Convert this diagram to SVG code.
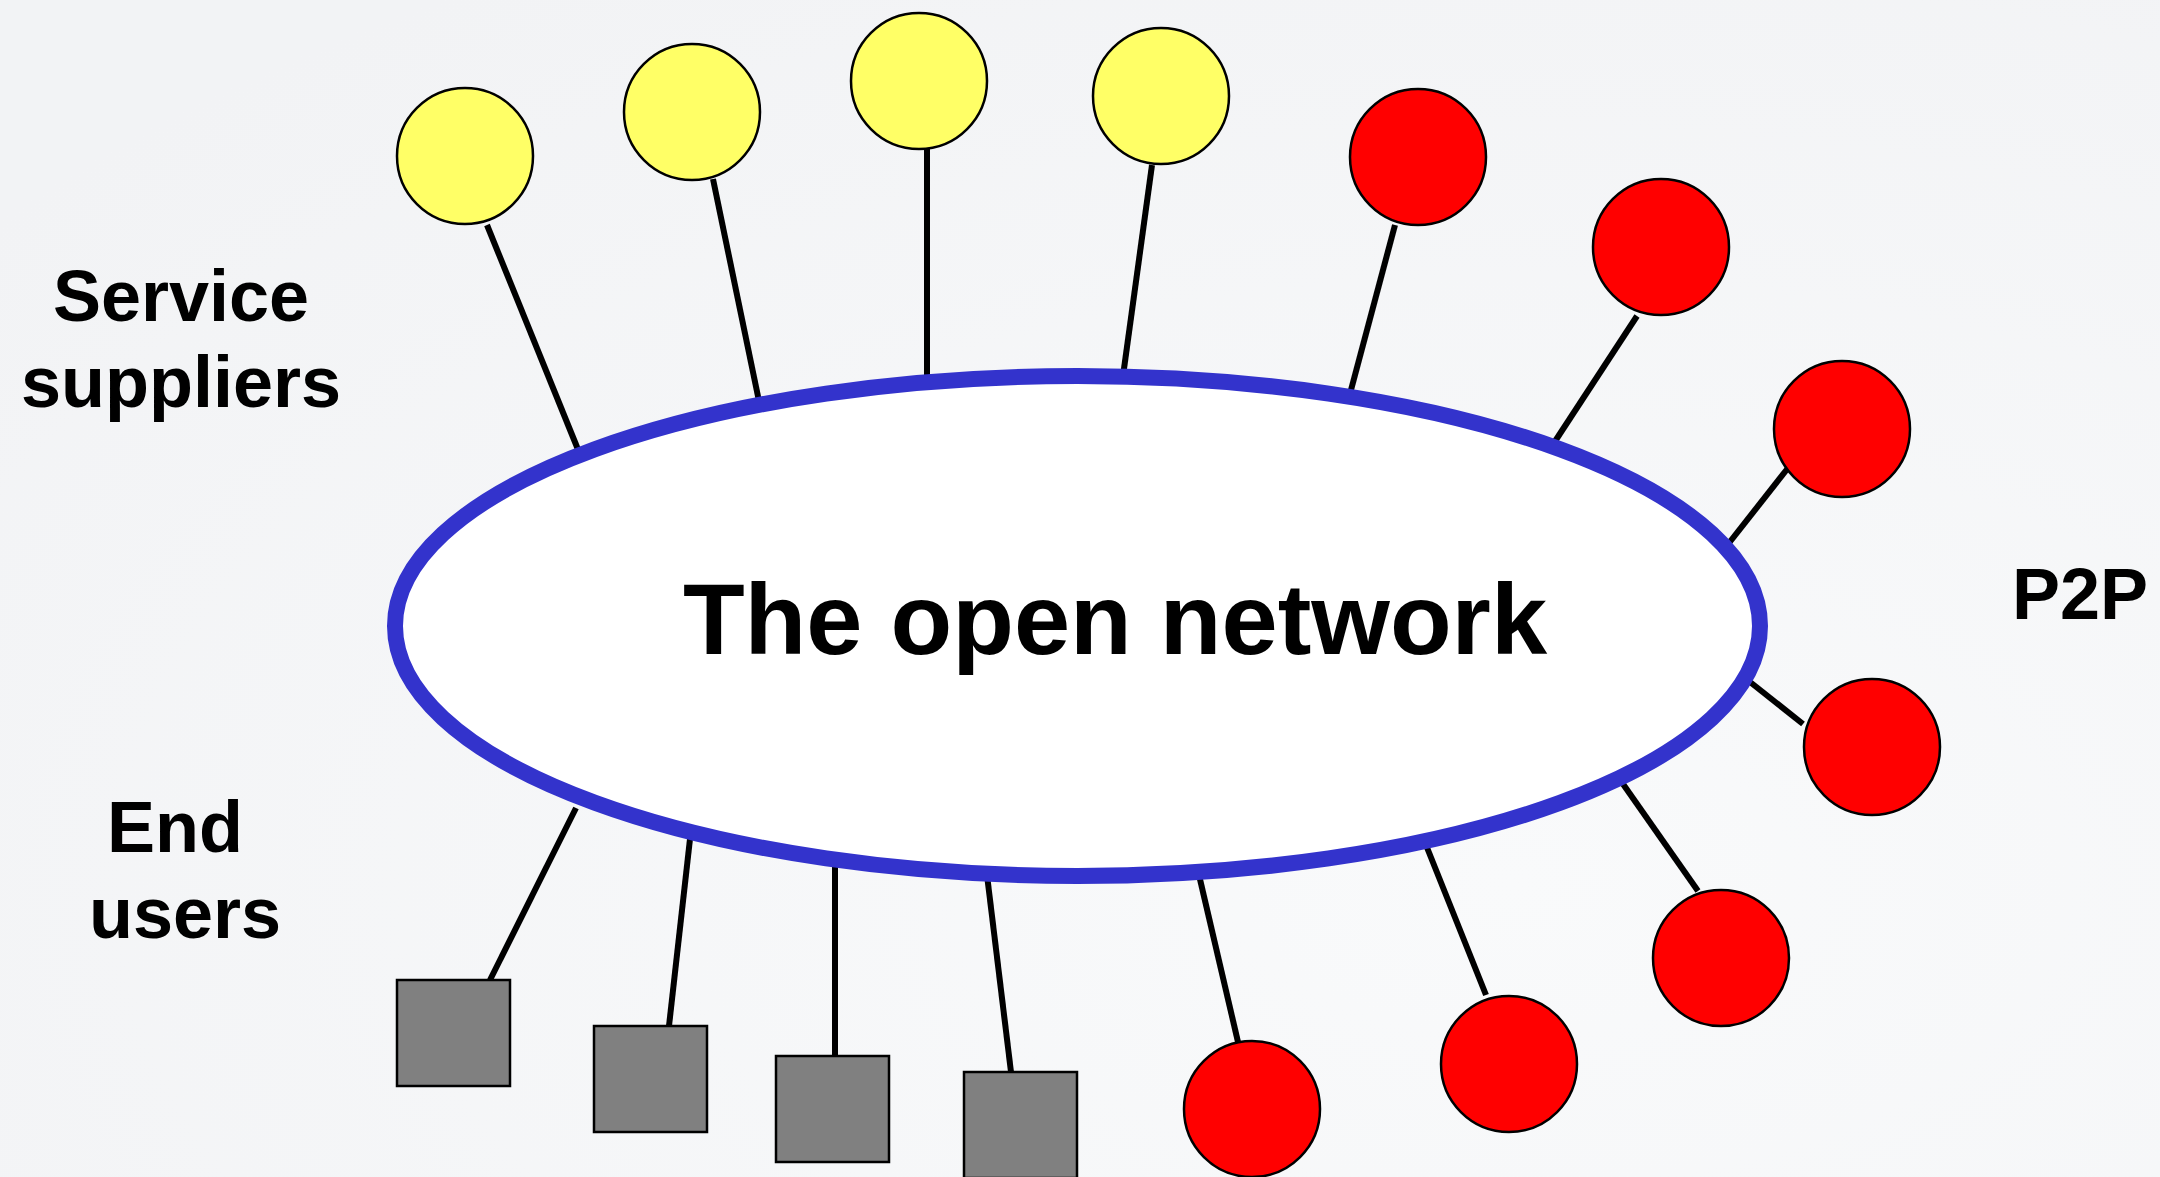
<svg xmlns="http://www.w3.org/2000/svg" width="2160" height="1177" viewBox="0 0 2160 1177">
  <defs>
    <radialGradient id="bg" cx="0.7" cy="0.75" r="0.9">
      <stop offset="0" stop-color="#f9fafb"/>
      <stop offset="1" stop-color="#f2f3f5"/>
    </radialGradient>
    <style>
      .link { stroke: #000; stroke-width: 6; fill: none; }
      .supplier { fill: #ffff66; stroke: #000; stroke-width: 2.5; }
      .peer { fill: #ff0000; stroke: #000; stroke-width: 2.5; }
      .user { fill: #808080; stroke: #000; stroke-width: 2.5; }
      .net { fill: #fff; stroke: #3333cc; stroke-width: 16; }
      .label { font-family: "Liberation Sans", Arial, sans-serif; font-weight: bold; fill: #000; }
    </style>
  </defs>

  <rect width="2160" height="1177" fill="url(#bg)"/>

  <!-- connectors from each node to the network ring -->
  <g id="connectors">
    <line class="link" x1="487" y1="225" x2="579" y2="452"/>
    <line class="link" x1="713" y1="179" x2="760" y2="406"/>
    <line class="link" x1="927" y1="149" x2="927" y2="376"/>
    <line class="link" x1="1152" y1="165" x2="1123" y2="376"/>
    <line class="link" x1="1395" y1="225" x2="1351" y2="390"/>
    <line class="link" x1="1637" y1="316" x2="1548" y2="452"/>
    <line class="link" x1="1788" y1="468" x2="1729" y2="543"/>
    <line class="link" x1="1745" y1="678" x2="1803" y2="724"/>
    <line class="link" x1="1623" y1="784" x2="1698" y2="891"/>
    <line class="link" x1="1426" y1="845" x2="1486" y2="995"/>
    <line class="link" x1="1199" y1="875" x2="1238" y2="1042"/>
    <line class="link" x1="576" y1="808" x2="490" y2="980"/>
    <line class="link" x1="691" y1="830" x2="669" y2="1026"/>
    <line class="link" x1="835" y1="860" x2="835" y2="1056"/>
    <line class="link" x1="987" y1="875" x2="1011" y2="1072"/>
  </g>

  <!-- the network itself -->
  <g id="network">
    <ellipse class="net" cx="1077.5" cy="626" rx="682.5" ry="250"/>
    <text class="label" x="1115" y="654" font-size="101" text-anchor="middle">The open network</text>
  </g>

  <!-- service suppliers -->
  <g id="supplier-1"><circle class="supplier" cx="465" cy="156" r="68"/></g>
  <g id="supplier-2"><circle class="supplier" cx="692" cy="112" r="68"/></g>
  <g id="supplier-3"><circle class="supplier" cx="919" cy="81" r="68"/></g>
  <g id="supplier-4"><circle class="supplier" cx="1161" cy="96" r="68"/></g>

  <!-- peers -->
  <g id="peer-1"><circle class="peer" cx="1418" cy="157" r="68"/></g>
  <g id="peer-2"><circle class="peer" cx="1661" cy="247" r="68"/></g>
  <g id="peer-3"><circle class="peer" cx="1842" cy="429" r="68"/></g>
  <g id="peer-4"><circle class="peer" cx="1872" cy="747" r="68"/></g>
  <g id="peer-5"><circle class="peer" cx="1721" cy="958" r="68"/></g>
  <g id="peer-6"><circle class="peer" cx="1509" cy="1064" r="68"/></g>
  <g id="peer-7"><circle class="peer" cx="1252" cy="1109" r="68"/></g>

  <!-- end users -->
  <g id="user-1"><rect class="user" x="397" y="980" width="113" height="106"/></g>
  <g id="user-2"><rect class="user" x="594" y="1026" width="113" height="106"/></g>
  <g id="user-3"><rect class="user" x="776" y="1056" width="113" height="106"/></g>
  <g id="user-4"><rect class="user" x="964" y="1072" width="113" height="106"/></g>

  <!-- group captions -->
  <g id="caption-suppliers">
    <text class="label" x="181" y="321" font-size="72" text-anchor="middle">Service</text>
    <text class="label" x="181" y="407" font-size="72" text-anchor="middle">suppliers</text>
  </g>
  <g id="caption-users">
    <text class="label" x="175" y="852" font-size="72" text-anchor="middle">End</text>
    <text class="label" x="185" y="938" font-size="72" text-anchor="middle">users</text>
  </g>
  <g id="caption-p2p">
    <text class="label" x="2080" y="619" font-size="72" text-anchor="middle">P2P</text>
  </g>
</svg>
